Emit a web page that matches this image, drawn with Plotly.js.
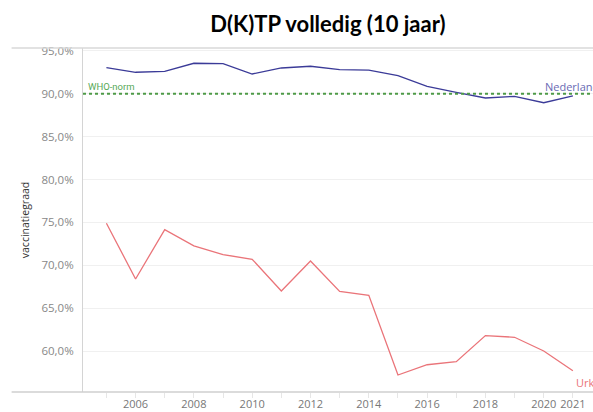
<!DOCTYPE html>
<html>
<head>
<meta charset="utf-8">
<script src="https://cdn.plot.ly/plotly-3.0.1.min.js"></script>
<style>html,body{margin:0;padding:0;background:#fff;}#chart{width:593px;height:412px;}</style>
</head>
<body>
<div id="chart"></div>
<script>
const years = [2005,2006,2007,2008,2009,2010,2011,2012,2013,2014,2015,2016,2017,2018,2019,2020,2021];
const nederland = [93.05,92.5,92.6,93.55,93.5,92.3,93.0,93.2,92.8,92.75,92.1,90.85,90.15,89.5,89.7,88.95,89.75];
const urk = [74.9,68.4,74.15,72.25,71.25,70.7,67.0,70.5,66.95,66.5,57.2,58.4,58.75,61.8,61.6,60.0,57.7];
const whoNorm = 90;
const yTickVals = [60,65,70,75,80,85,90,95];
const yTickText = ['60,0%','65,0%','70,0%','75,0%','80,0%','85,0%','90,0%','95,0%'];
const xTickVals = [2006,2008,2010,2012,2014,2016,2018,2020,2021];
const xTickText = ['2006','2008','2010','2012','2014','2016','2018','2020','2021'];

const traces = [
  {x: years, y: nederland, type:'scatter', mode:'lines', name:'Nederland',
   line:{color:'#3b3b98', width:1.3}, hoverinfo:'skip'},
  {x: years, y: urk, type:'scatter', mode:'lines', name:'Urk',
   line:{color:'#ea7479', width:1.3}, hoverinfo:'skip'}
];

const layout = {
  width:593, height:412,
  margin:{l:83, r:0, t:48, b:20},
  paper_bgcolor:'#fff', plot_bgcolor:'#fff',
  showlegend:false,
  font:{family:'Open Sans, Lato, sans-serif', color:'#777', size:11},
  title:{text:'<b>D(K)TP volledig (10 jaar)</b>', x:0.553, xanchor:'center', y:0.94, yanchor:'middle',
         font:{family:'Lato, Carlito, sans-serif', size:22, color:'#000'}},
  xaxis:{range:[2004.197, 2021.69], tickvals:xTickVals, ticktext:xTickText, showgrid:false,
         zeroline:false, showline:false, ticks:'outside', ticklen:5, tickcolor:'#e6e6e6',
         ticklabelstandoff:-3,
         minor:{dtick:1, tick0:2005, ticks:'outside', ticklen:5, tickcolor:'#e6e6e6', showgrid:false},
         tickfont:{size:11, color:'#777'}},
  yaxis:{range:[55.22, 95.33], tickvals:yTickVals, ticktext:yTickText, showgrid:true,
         gridcolor:'#f0f0f0', gridwidth:1, zeroline:false, showline:true, linecolor:'#d4d4d4',
         ticks:'', ticklabelstandoff:6, tickfont:{size:11.5, color:'#888'},
         title:{text:'vaccinatiegraad', standoff:9, font:{size:10.5, color:'#333'}}},
  shapes:[
    {type:'line', xref:'x', yref:'y', x0:2004.197, x1:2021.69, y0:whoNorm, y1:whoNorm,
     line:{color:'#4e9a47', width:2, dash:'dot'}},
    {type:'line', xref:'paper', yref:'paper', x0:-0.14, x1:1, y0:0, y1:0, line:{color:'#cfcfcf', width:1.3}},
    {type:'line', xref:'paper', yref:'paper', x0:-0.14, x1:1, y0:1, y1:1, line:{color:'#d8d8d8', width:1.3}}
  ],
  annotations:[
    {x:0.006, xref:'paper', y:whoNorm, yref:'y', text:'WHO-norm', showarrow:false, xanchor:'left', yanchor:'bottom',
     yshift:0, font:{size:9.5, color:'#56a856', family:'Roboto, sans-serif'}},
    {x:2019.98, xref:'x', y:whoNorm, yref:'y', text:'Nederland', showarrow:false, xanchor:'left', yanchor:'bottom',
     yshift:-2, font:{size:11, color:'#6a6ab4'}},
    {x:2021.05, xref:'x', y:57.7, yref:'y', text:'Urk', showarrow:false, xanchor:'left', yanchor:'top',
     yshift:-2, font:{size:11, color:'#ea7479'}}
  ]
};

Plotly.newPlot('chart', traces, layout, {staticPlot:true, displayModeBar:false});
</script>
</body>
</html>
